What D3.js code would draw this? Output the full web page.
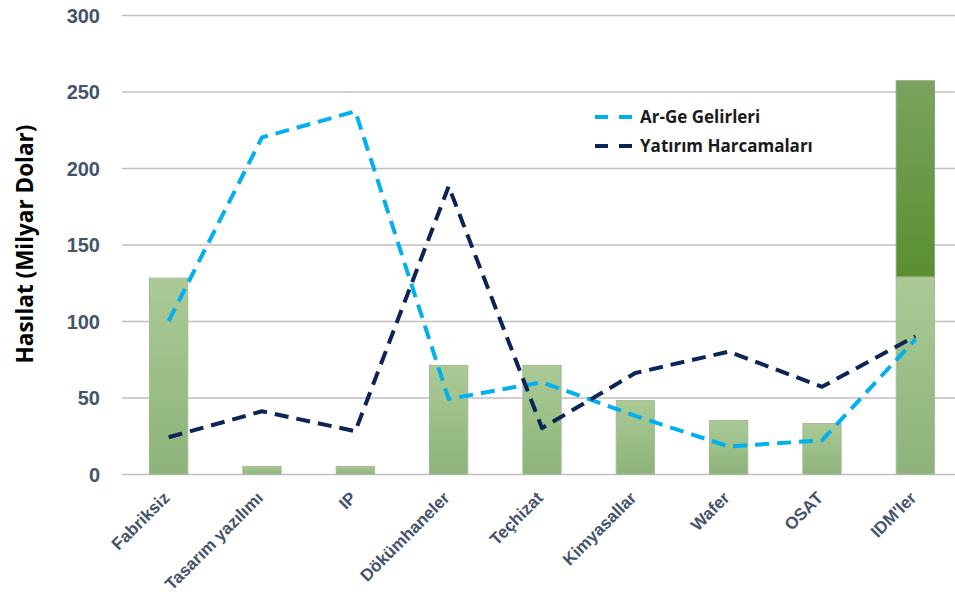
<!DOCTYPE html>
<html>
<head>
<meta charset="utf-8">
<script src="https://cdn.jsdelivr.net/npm/d3@7"></script>
<style>
  html, body { margin: 0; padding: 0; background: #fff; }
  svg { display: block; font-family: "Open Sans", "Noto Sans", sans-serif; }
</style>
</head>
<body>
<svg id="chart" width="955" height="598"></svg>
<script>
// Segments of the semiconductor value chain
const categories = ["Fabriksiz", "Tasarım yazılımı", "IP", "Dökümhaneler", "Teçhizat",
                    "Kimyasallar", "Wafer", "OSAT", "IDM'ler"];
// Revenue (billion USD) – base bar and the extra stacked part for IDMs
const revenue      = [128, 5, 5, 71, 71, 48, 35, 33, 129];
const revenueExtra = [0, 0, 0, 0, 0, 0, 0, 0, 128];
// Dashed line series
const rdSpending  = [100, 220, 237, 49, 60, 38, 18, 22, 88];
const capex       = [24, 41, 28, 188, 30, 66, 80, 57, 90];
const yTicks = [0, 50, 100, 150, 200, 250, 300];
const seriesNames = ["Ar-Ge Gelirleri", "Yatırım Harcamaları"];

const svg = d3.select("#chart");
const plotLeft = 122, plotRight = 962, plotTop = 15, plotBottom = 474;

const x = d3.scaleBand().domain(categories).range([plotLeft, plotRight]).paddingInner(0.59).paddingOuter(0.295);
const xc = d => x(d) + x.bandwidth() / 2;
const y = d3.scaleLinear().domain([0, 300]).range([plotBottom, plotTop]);

// Gradients for the bars
const defs = svg.append("defs");
function grad(id, c1, c2) {
  const g = defs.append("linearGradient").attr("id", id).attr("x1", 0).attr("y1", 0).attr("x2", 0).attr("y2", 1);
  g.append("stop").attr("offset", "0%").attr("stop-color", c1);
  g.append("stop").attr("offset", "100%").attr("stop-color", c2);
}
grad("gLight", "#abca96", "#8cb479");
grad("gDark", "#79a45f", "#5a8f30");

// Gridlines and y tick labels
const yAxis = d3.axisLeft(y).tickValues(yTicks).tickSize(-(955 - plotLeft)).tickPadding(22);
const gy = svg.append("g").attr("transform", `translate(${plotLeft},0)`).call(yAxis);
gy.select(".domain").remove();
gy.selectAll(".tick line").attr("stroke", "#bfbfbf").attr("stroke-width", 1.5);
gy.selectAll(".tick text").attr("fill", "#44546a").attr("font-weight", 700)
  .attr("font-size", 20).attr("dy", "0.36em");

// Y axis title
svg.append("text")
  .attr("transform", `translate(33,244) rotate(-90)`)
  .attr("text-anchor", "middle").attr("font-weight", 700).attr("font-size", 22.5)
  .attr("fill", "#000").text("Hasılat (Milyar Dolar)");

// Bars
svg.append("g").selectAll("rect").data(categories).join("rect")
  .attr("x", d => x(d)).attr("width", x.bandwidth())
  .attr("y", (d, i) => y(revenue[i])).attr("height", (d, i) => y(0) - y(revenue[i]))
  .attr("fill", "url(#gLight)").attr("stroke", "#a6b99a").attr("stroke-width", 1);
svg.append("g").selectAll("rect").data(categories.filter((d, i) => revenueExtra[i] > 0)).join("rect")
  .attr("x", d => x(d)).attr("width", x.bandwidth())
  .attr("y", d => { const i = categories.indexOf(d); return y(revenue[i] + revenueExtra[i]); })
  .attr("height", d => { const i = categories.indexOf(d); return y(revenue[i]) - y(revenue[i] + revenueExtra[i]); })
  .attr("fill", "url(#gDark)").attr("stroke", "#8aa57a").attr("stroke-width", 1);

// X axis labels
const gx = svg.append("g").attr("transform", `translate(0,${plotBottom})`)
  .call(d3.axisBottom(x).tickSize(0).tickPadding(0));
gx.select(".domain").remove();
gx.selectAll(".tick text")
  .attr("fill", "#44546a").attr("font-weight", 700).attr("font-size", 17)
  .attr("text-anchor", "end").attr("dy", 0)
  .attr("transform", "translate(2,25) rotate(-45)");

// Dashed lines
const colors = ["#00b0f0", "#0c2456"];
const line = d3.line().x((d, i) => xc(categories[i])).y(d => y(d));
[rdSpending, capex].forEach((s, k) => {
  svg.append("path").datum(s).attr("d", line)
    .attr("fill", "none").attr("stroke", colors[k]).attr("stroke-width", 4)
    .attr("stroke-dasharray", "14 8").attr("stroke-linejoin", "round");
});

// Legend
const lg = svg.append("g").attr("transform", "translate(595,117)");
seriesNames.forEach((n, k) => {
  const r = lg.append("g").attr("transform", `translate(0,${k * 29})`);
  r.append("line").attr("x1", 0).attr("x2", 37).attr("y1", 0).attr("y2", 0)
    .attr("stroke", colors[k]).attr("stroke-width", 4).attr("stroke-dasharray", "13 11");
  r.append("text").attr("x", 45).attr("dy", "0.36em").attr("font-size", 17)
    .attr("font-weight", 700).attr("fill", "#1a1a1a").text(n);
});
</script>
</body>
</html>
